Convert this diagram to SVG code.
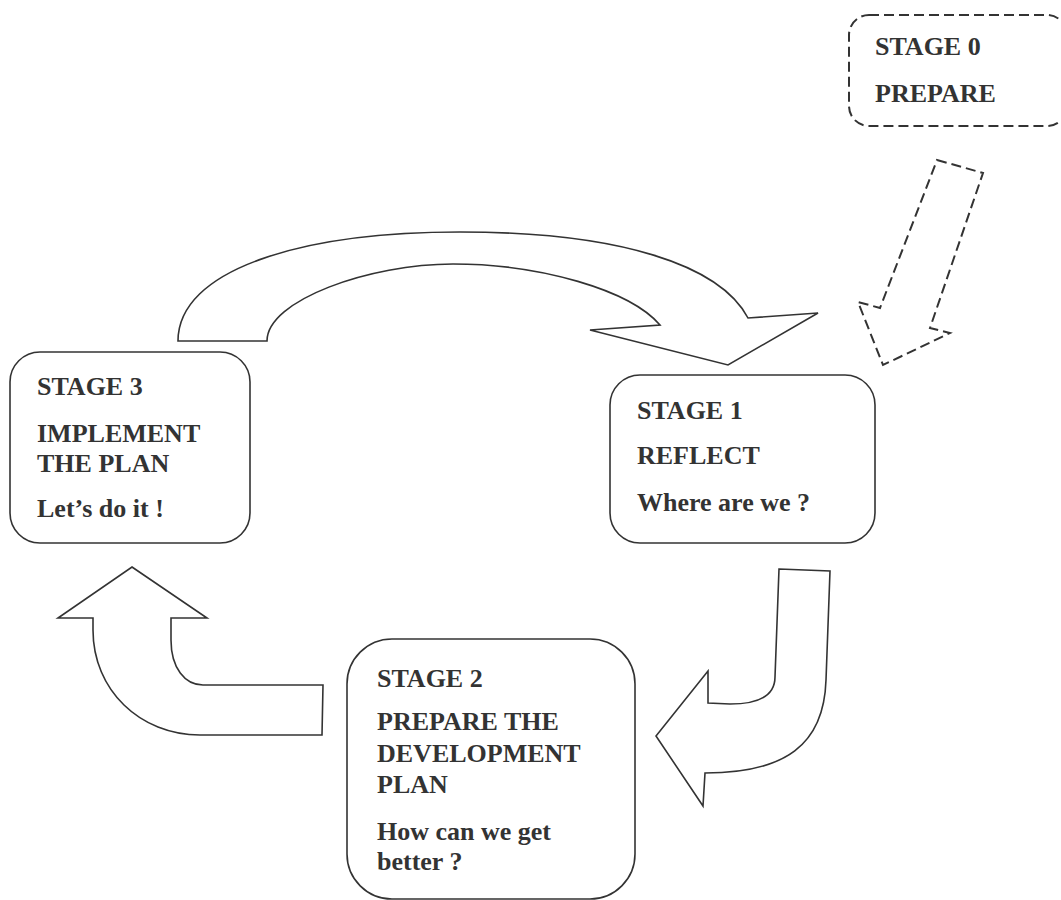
<svg xmlns="http://www.w3.org/2000/svg" width="1061" height="900" viewBox="0 0 1061 900">
<style>
.box{fill:#fff;stroke:#333;stroke-width:1.6}
.dash{fill:#fff;stroke:#333;stroke-width:2;stroke-dasharray:10 5}
.arrow{fill:#fff;stroke:#333;stroke-width:1.6;stroke-linejoin:miter}
.t{font-family:"Liberation Serif","Times New Roman",serif;font-weight:bold;font-size:26px;fill:#333}
</style>
<rect width="1061" height="900" fill="#fff"/>
<g id="connectors">
<path id="arrow-3-1" class="arrow" d="M178,341 C178,270 300,232 460,232 C620,232 720,265 748,318 L818,313 L728,365 L590,330 L660,325 C630,290 540,264 453,264 C370,264 267,300 267,341 Z"/>
<path id="arrow-1-2" class="arrow" d="M779,569 L830,571 L826,680 C824,745 785,773 705,773 L703,806 L656,736 L708,671 L708,703 L730,704 C760,704 775,695 775,677 Z"/>
<path id="arrow-2-3" class="arrow" d="M132,567 L207,618 L171,618 L171,640 C171,668 185,685 203,685 L323,685 L322,735 L200,735 C140,735 93,690 93,630 L93,618 L58,618 Z"/>
<path id="arrow-0-1" class="dash" d="M937,160 L983,173 L930,328 L950,333 L883,365 L858,302 L880,308 Z"/>
</g>
<g id="stage0">
<rect class="dash" x="849" y="15" width="218" height="111" rx="20"/>
<text class="t" x="875" y="55">STAGE 0</text>
<text class="t" x="875" y="102">PREPARE</text>
</g>
<g id="stage1">
<rect class="box" x="610" y="375" width="265" height="168" rx="30"/>
<text class="t" x="637" y="419">STAGE 1</text>
<text class="t" x="637" y="464">REFLECT</text>
<text class="t" x="637" y="511">Where are we ?</text>
</g>
<g id="stage2">
<rect class="box" x="347" y="639" width="288" height="260" rx="45"/>
<text class="t" x="377" y="687">STAGE 2</text>
<text class="t" x="377" y="730">PREPARE THE</text>
<text class="t" x="377" y="762">DEVELOPMENT</text>
<text class="t" x="377" y="793">PLAN</text>
<text class="t" x="377" y="840">How can we get</text>
<text class="t" x="377" y="870">better ?</text>
</g>
<g id="stage3">
<rect class="box" x="10" y="352" width="240" height="191" rx="30"/>
<text class="t" x="37" y="395">STAGE 3</text>
<text class="t" x="37" y="442">IMPLEMENT</text>
<text class="t" x="37" y="472">THE PLAN</text>
<text class="t" x="37" y="517">Let’s do it !</text>
</g>
</svg>
